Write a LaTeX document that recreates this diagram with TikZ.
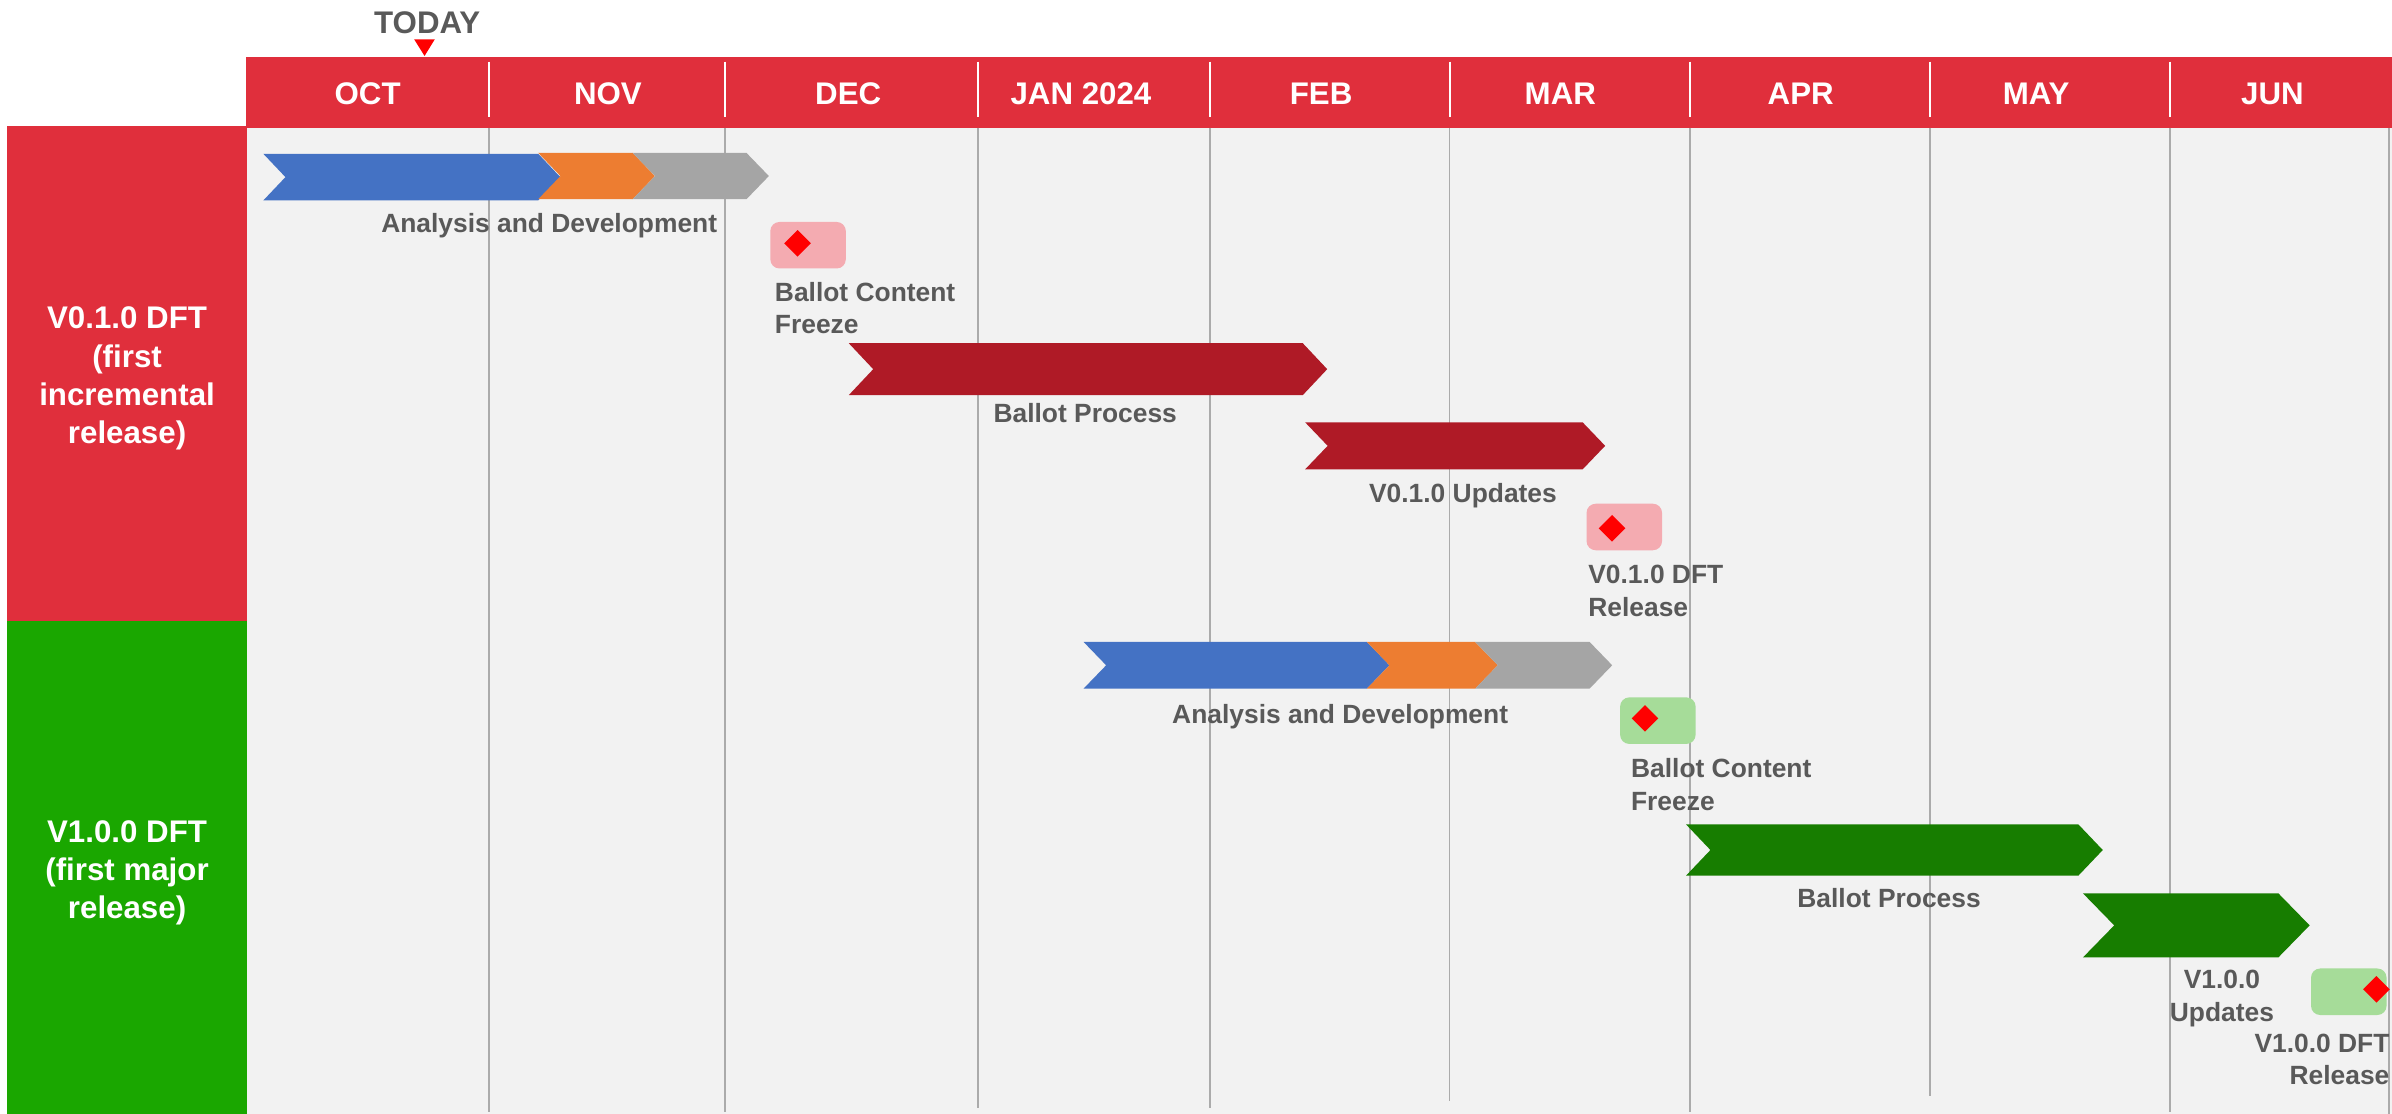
\documentclass[tikz,border=0pt]{standalone}
\usepackage{fontspec}
\setmainfont{Liberation Sans}
\usetikzlibrary{shapes.geometric}
\definecolor{hdrred}{HTML}{E02F3C}
\definecolor{relgreen}{HTML}{1AA700}
\definecolor{bodygray}{HTML}{F2F2F2}
\definecolor{gridgray}{HTML}{ABABAB}
\definecolor{txtgray}{HTML}{595959}
\definecolor{devblue}{HTML}{4472C4}
\definecolor{devorange}{HTML}{ED7D31}
\definecolor{devgray}{HTML}{A5A5A5}
\definecolor{ballotred}{HTML}{AF1A26}
\definecolor{ballotgreen}{HTML}{177D00}
\definecolor{mspink}{HTML}{F4ABB1}
\definecolor{msgreen}{HTML}{A6DC99}
% chevron: colour, left x, edge x, top y, bottom y, depth
\newcommand{\chev}[6]{%
  \fill[#1] (#2,#4) -- (#3,#4) -- ({#3+#6},{(#4+#5)/2}) -- (#3,#5) -- (#2,#5) -- ({#2+#6},{(#4+#5)/2}) -- cycle;}
\begin{document}
\begin{tikzpicture}[x=1pt,y=-1pt,
    month/.style={text=white,inner sep=0pt,font=\fontsize{20.5}{24}\selectfont\bfseries},
    phase/.style={text=white,align=center,inner sep=0pt,font=\fontsize{20.5}{25.1}\selectfont\bfseries},
    task/.style={text=txtgray,inner sep=0pt,font=\fontsize{17.3}{21.2}\selectfont\bfseries},
    milestone/.style={rounded corners=6pt,minimum width=49.5pt,minimum height=30.5pt,inner sep=0pt},
    gem/.style={diamond,fill=red,inner sep=0pt,minimum width=17.6pt,minimum height=17.6pt}]
  \useasboundingbox (0,0) rectangle (1568,730);
  % frame
  \fill[bodygray] (162,83.7) rectangle (1568,730);
  \fill[hdrred] (161.2,37.4) rectangle (1568,83.7);
  \fill[hdrred] (4.7,82.6) rectangle (162,407);
  \fill[relgreen] (4.7,407) rectangle (162,730);
  \foreach \x/\y in {320.7/729,475.3/729,641/726,793/726,950.3/722,1107.9/729,1265/718.5,1422.5/729,1566/730}
    \draw[gridgray,line width=1pt] (\x,83.7) -- (\x,\y);
  \foreach \x in {320.7,475.3,641,793,950.3,1107.9,1265,1422.5}
    \draw[white,line width=1.5pt] (\x,40.4) -- (\x,76.9);
  \foreach \x/\m [count=\i] in {241/OCT,398.5/NOV,556/DEC,708.6/JAN 2024,866/FEB,1022.8/MAR,1180.4/APR,1334.7/MAY,1489.6/JUN}
    \node[month,anchor=base] (m\i) at (\x,68.2) {\m};
  \node[month,text=txtgray,anchor=base] (today) at (280,21.9) {TODAY};
  \fill[red] (271.5,25.8) -- (285,25.8) -- (278.3,36.7) -- cycle;
  \node[phase,anchor=north] (v010) at (83.3,201) {V0.1.0 DFT\\(first\\incremental\\release)};
  \node[phase,anchor=north] (v100) at (83.3,537.5) {V1.0.0 DFT\\(first major\\release)};
  % V0.1.0 row
  \chev{devblue}{172.6}{352.8}{100.8}{131.4}{14.5}
  \chev{devorange}{352.8}{414.7}{100.2}{130.6}{14.6}
  \chev{devgray}{414.7}{489.3}{100.2}{130.6}{14.7}
  \node[task,anchor=base] (dev1) at (360,152.3) {Analysis and Development};
  \node[milestone,fill=mspink] (ms1) at (529.7,160.75) {};
  \node[gem] (gem1) at (522.8,159.5) {};
  \node[task,anchor=north west,align=left] (frz1) at (507.8,184.6) {Ballot Content\\Freeze};
  \chev{ballotred}{556.4}{854}{225}{259}{16}
  \node[task,anchor=base] (bal1) at (711.4,276.8) {Ballot Process};
  \chev{ballotred}{855.5}{1037.4}{276.8}{307.7}{14.8}
  \node[task,anchor=base] (upd1) at (959,329.5) {V0.1.0 Updates};
  \node[milestone,fill=mspink] (ms2) at (1064.75,345.45) {};
  \node[gem] (gem2) at (1056.7,346.3) {};
  \node[task,anchor=north west,align=left] (rel1) at (1041,370.4) {V0.1.0 DFT\\Release};
  % V1.0.0 row
  \chev{devblue}{710.3}{896}{420.8}{451.4}{14.8}
  \chev{devorange}{896}{967}{420.8}{451.4}{14.8}
  \chev{devgray}{967}{1042}{420.8}{451.4}{14.8}
  \node[task,anchor=base] (dev2) at (878.5,474.2) {Analysis and Development};
  \node[milestone,fill=msgreen] (ms3) at (1086.75,472.4) {};
  \node[gem] (gem3) at (1078.3,470.9) {};
  \node[task,anchor=north west,align=left] (frz2) at (1069,497.1) {Ballot Content\\Freeze};
  \chev{ballotgreen}{1105.2}{1362.4}{540.4}{574}{16}
  \node[task,anchor=base] (bal2) at (1238.3,594.8) {Ballot Process};
  \chev{ballotgreen}{1365.4}{1493.5}{585.6}{627.6}{20.5}
  \node[task,anchor=north,align=center] (upd2) at (1456.5,635.9) {V1.0.0\\Updates};
  \node[milestone,fill=msgreen] (ms4) at (1539.65,650.1) {};
  \node[gem] (gem4) at (1557.8,648.5) {};
  \node[task,anchor=north east,align=right] (rel2) at (1566.5,677.4) {V1.0.0 DFT\\Release};
\end{tikzpicture}
\end{document}
